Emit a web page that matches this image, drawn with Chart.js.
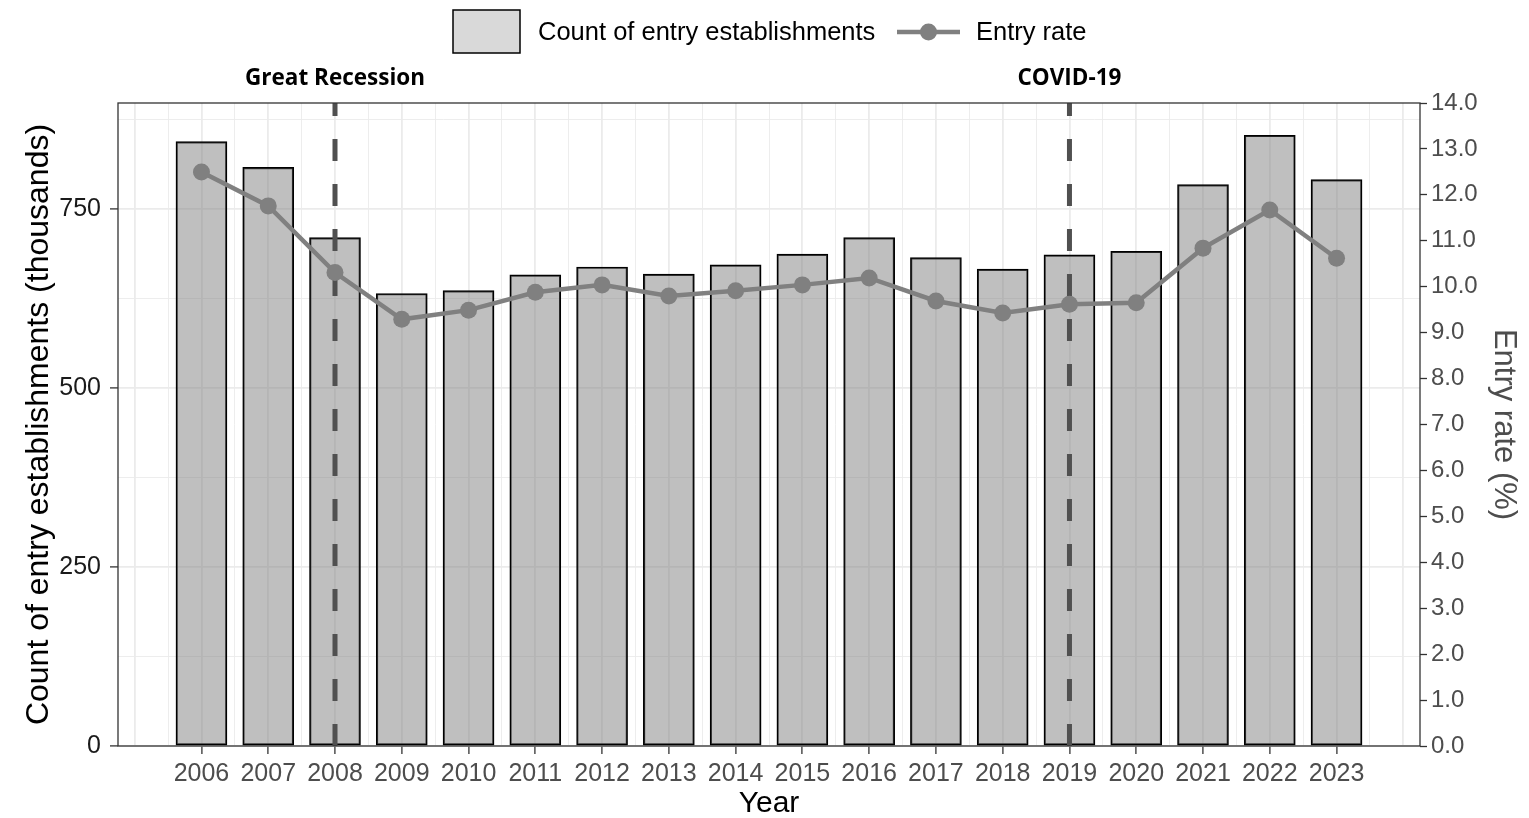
<!DOCTYPE html>
<html><head><meta charset="utf-8">
<script src="https://cdn.jsdelivr.net/npm/chart.js@4.4.1/dist/chart.umd.min.js"></script>
<style>html,body{margin:0;padding:0;background:#fff;overflow:hidden}</style>
</head><body>
<canvas id="c" width="1529" height="818"></canvas>
<script>
// ---- data ----
const years = [2006,2007,2008,2009,2010,2011,2012,2013,2014,2015,2016,2017,2018,2019,2020,2021,2022,2023];
const entryCounts = [844,808,710,632,636,658,669,659,672,687,710,682,666,686,691,784,853,791];
const entryRates = [12.50,11.76,10.31,9.29,9.49,9.88,10.04,9.80,9.91,10.04,10.19,9.69,9.43,9.62,9.65,10.84,11.67,10.62];
const countTicks = [0,125,250,375,500,625,750,875];
const countLabelTicks = [0,250,500,750];
const rateTicks = [0,1,2,3,4,5,6,7,8,9,10,11,12,13,14];
const yearGridTicks = [2005,2005.5,2006,2006.5,2007,2007.5,2008,2008.5,2009,2009.5,2010,2010.5,2011,2011.5,2012,2012.5,2013,2013.5,2014,2014.5,2015,2015.5,2016,2016.5,2017,2017.5,2018,2018.5,2019,2019.5,2020,2020.5,2021,2021.5,2022,2022.5,2023,2023.5,2024];
const eventYears = [2008, 2019];
const eventLabels = ['Great Recession', 'COVID-19'];
const legendLabels = ['Count of entry establishments', 'Entry rate'];

const FONT = "'Liberation Sans', Arial, sans-serif";
const tv = c => (c && c.tick) ? c.tick.value : NaN;
const isYearLabel = v => Number.isInteger(v) && years.includes(v);

const overlay = {
  id: 'overlay',
  afterDatasetDraw(chart, args) {
    if (args.index !== 0) return;
    const {ctx, chartArea: a, scales: {x}} = chart;
    ctx.save();
    ctx.strokeStyle = '#505050';
    ctx.lineWidth = 5;
    ctx.setLineDash([22, 23]);
    eventYears.forEach(yr => {
      const px = x.getPixelForValue(yr);
      ctx.beginPath();
      ctx.moveTo(px, a.bottom);
      ctx.lineTo(px, a.top);
      ctx.stroke();
    });
    ctx.restore();
  },
  afterDraw(chart) {
    const {ctx, chartArea: a, scales: {x}} = chart;
    ctx.save();
    ctx.strokeStyle = '#333';
    ctx.lineWidth = 1.3;
    ctx.strokeRect(a.left, a.top, a.right - a.left, a.bottom - a.top);
    ctx.fillStyle = '#000';
    ctx.font = "bold 22.5px 'Open Sans', sans-serif";
    ctx.textAlign = 'center';
    ctx.textBaseline = 'middle';
    eventYears.forEach((yr, i) => {
      ctx.fillText(eventLabels[i], x.getPixelForValue(yr), 79);
    });
    ctx.fillStyle = '#d9d9d9';
    ctx.fillRect(453, 10, 67, 43);
    ctx.strokeStyle = '#000';
    ctx.lineWidth = 1.5;
    ctx.strokeRect(453, 10, 67, 43);
    ctx.fillStyle = '#000';
    ctx.font = "25.5px " + FONT;
    ctx.textAlign = 'left';
    ctx.fillText(legendLabels[0], 538, 33);
    ctx.strokeStyle = '#808080';
    ctx.lineWidth = 4.5;
    ctx.beginPath(); ctx.moveTo(897, 32); ctx.lineTo(960, 32); ctx.stroke();
    ctx.fillStyle = '#808080';
    ctx.beginPath(); ctx.arc(928.5, 32, 8.5, 0, Math.PI * 2); ctx.fill();
    ctx.fillStyle = '#000';
    ctx.fillText(legendLabels[1], 976, 33);
    ctx.restore();
  }
};

new Chart(document.getElementById('c'), {
  data: {
    datasets: [
      {
        type: 'bar',
        label: legendLabels[0],
        data: years.map((y, i) => ({x: y, y: entryCounts[i]})),
        yAxisID: 'y',
        backgroundColor: 'rgba(128,128,128,0.5)',
        borderColor: '#000',
        borderWidth: 1.5,
        borderSkipped: false,
        barThickness: 51,
        order: 1
      },
      {
        type: 'line',
        label: legendLabels[1],
        data: years.map((y, i) => ({x: y, y: entryRates[i]})),
        yAxisID: 'yR',
        borderColor: '#808080',
        borderWidth: 4.5,
        pointRadius: 8.5,
        pointBackgroundColor: '#808080',
        pointBorderWidth: 0,
        tension: 0,
        order: 0
      }
    ]
  },
  options: {
    responsive: false,
    animation: false,
    devicePixelRatio: 1,
    layout: {padding: {top: 103, left: 0, right: 0, bottom: 0}},
    plugins: {legend: {display: false}, tooltip: {enabled: false}},
    scales: {
      x: {
        type: 'linear',
        position: 'bottom',
        offset: false,
        min: 2004.75,
        max: 2024.25,
        afterBuildTicks: s => { s.ticks = yearGridTicks.map(v => ({value: v})); },
        afterFit: s => { s.height = 72; },
        ticks: {
          autoSkip: false, maxRotation: 0, minRotation: 0,
          padding: 5,
          color: '#4d4d4d',
          font: {family: FONT, size: 25},
          callback: v => isYearLabel(v) ? String(v) : ''
        },
        grid: {
          offset: false,
          color: '#ebebeb',
          lineWidth: c => Number.isInteger(tv(c)) ? 1.8 : 0.9,
          tickColor: c => isYearLabel(tv(c)) ? '#333' : 'rgba(0,0,0,0)',
          tickLength: 8,
          tickWidth: 1.3
        },
        border: {display: false},
        title: {display: true, text: 'Year', color: '#000', font: {family: FONT, size: 30}, padding: {top: 0, bottom: -4}}
      },
      y: {
        type: 'linear',
        position: 'left',
        min: 0,
        max: 898,
        afterBuildTicks: s => { s.ticks = countTicks.map(v => ({value: v})); },
        afterFit: s => { s.width = 118; },
        ticks: {
          autoSkip: false,
          padding: 9,
          color: '#1a1a1a',
          font: {family: FONT, size: 25},
          callback: v => countLabelTicks.includes(v) ? String(v) : ''
        },
        grid: {
          color: '#ebebeb',
          lineWidth: c => countLabelTicks.includes(tv(c)) ? 1.8 : 0.9,
          tickColor: c => countLabelTicks.includes(tv(c)) ? '#333' : 'rgba(0,0,0,0)',
          tickLength: 8,
          tickWidth: 1.3
        },
        border: {display: false},
        title: {display: true, text: 'Count of entry establishments (thousands)', color: '#000', font: {family: FONT, size: 32}, padding: {top: 20, bottom: 0}}
      },
      yR: {
        type: 'linear',
        position: 'right',
        min: 0,
        max: 14,
        afterBuildTicks: s => { s.ticks = rateTicks.map(v => ({value: v})); },
        afterFit: s => { s.width = 109; },
        ticks: {
          autoSkip: false,
          padding: 4,
          color: '#4d4d4d',
          font: {family: FONT, size: 24},
          callback: v => Number(v).toFixed(1)
        },
        grid: {
          drawOnChartArea: false,
          tickColor: '#333',
          tickLength: 7,
          tickWidth: 1.3
        },
        border: {display: false},
        title: {display: true, text: 'Entry rate (%)', color: '#4d4d4d', font: {family: FONT, size: 31}, padding: {top: 7, bottom: 0}}
      }
    }
  },
  plugins: [overlay]
});
</script>
</body></html>
